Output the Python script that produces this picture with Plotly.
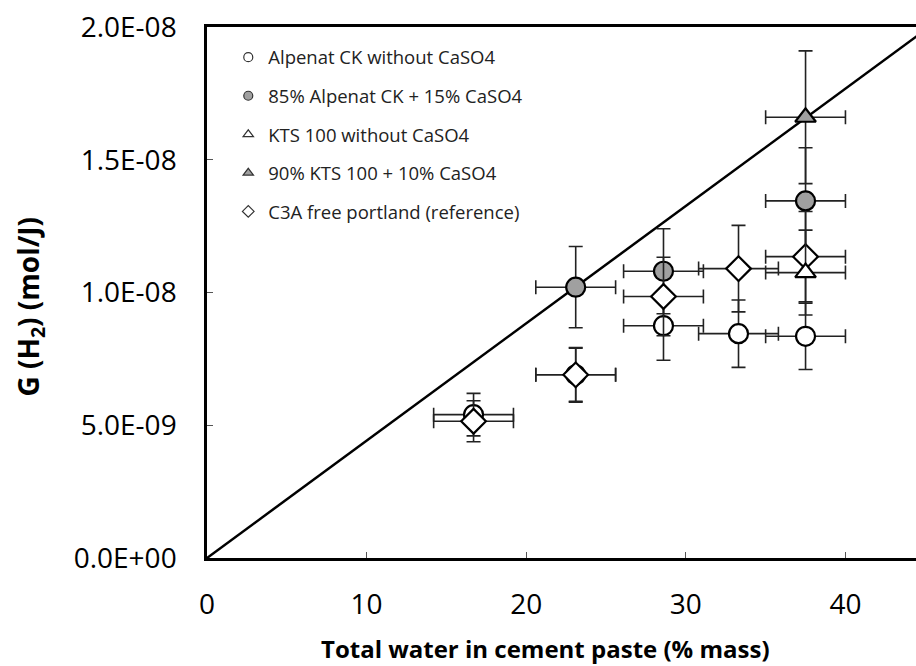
import plotly.graph_objects as go

# ---- data ----
alpenat_x = [16.7, 23.1, 28.6, 33.3, 37.5]
alpenat_y = [5.4e-9, 6.9e-9, 8.75e-9, 8.45e-9, 8.35e-9]
alpenat_xerr = [2.5, 2.5, 2.5, 2.5, 2.5]
alpenat_yerr = [0.8e-9, 1.0e-9, 1.3e-9, 1.27e-9, 1.25e-9]

alpenat_caso4_x = [23.1, 28.6, 37.5]
alpenat_caso4_y = [1.02e-8, 1.08e-8, 1.345e-8]
alpenat_caso4_xerr = [2.5, 2.5, 2.5]
alpenat_caso4_yerr = [1.53e-9, 1.6e-9, 2.0e-9]

kts_x = [37.5]
kts_y = [1.075e-8]
kts_xerr = [2.5]
kts_yerr = [1.6e-9]

kts_caso4_x = [37.5]
kts_caso4_y = [1.66e-8]
kts_caso4_xerr = [2.5]
kts_caso4_yerr = [2.5e-9]

c3a_x = [16.7, 23.1, 28.6, 33.3, 37.5]
c3a_y = [5.15e-9, 6.9e-9, 9.85e-9, 1.09e-8, 1.135e-8]
c3a_xerr = [2.5, 2.5, 2.5, 2.5, 2.5]
c3a_yerr = [0.77e-9, 1.03e-9, 1.48e-9, 1.63e-9, 1.7e-9]

trend_slope = 4.42e-10
trend_x = [0, 50]

y_tickvals = [0, 5e-9, 1e-8, 1.5e-8, 2e-8]
y_ticktext = ["0.0E+00", "5.0E-09", "1.0E-08", "1.5E-08", "2.0E-08"]
x_tickvals = [0, 10, 20, 30, 40]

series = [
    ("Alpenat CK without CaSO4", alpenat_x, alpenat_y, alpenat_xerr, alpenat_yerr, "circle", "white"),
    ("85% Alpenat CK + 15% CaSO4", alpenat_caso4_x, alpenat_caso4_y, alpenat_caso4_xerr, alpenat_caso4_yerr, "circle", "#a0a0a0"),
    ("C3A free portland (reference)", c3a_x, c3a_y, c3a_xerr, c3a_yerr, "diamond", "white"),
    ("KTS 100 without CaSO4", kts_x, kts_y, kts_xerr, kts_yerr, "triangle-up", "white"),
    ("90% KTS 100 + 10% CaSO4", kts_caso4_x, kts_caso4_y, kts_caso4_xerr, kts_caso4_yerr, "triangle-up", "#a0a0a0"),
]
legend_order = [0, 1, 3, 4, 2]

FONT = "Open Sans"
fig = go.Figure()

fig.add_trace(go.Scatter(
    x=trend_x, y=[trend_slope * v for v in trend_x], mode="lines",
    line=dict(color="black", width=2.5), showlegend=False, hoverinfo="skip"))

for name, xs, ys, xe, ye, sym, fill in series:
    size = 19 if sym != "triangle-up" else 18
    fig.add_trace(go.Scatter(
        x=xs, y=ys, mode="markers", name=name, showlegend=False,
        marker=dict(symbol=sym, size=size, color=fill,
                    line=dict(color="black", width=2.2)),
        error_x=dict(type="data", array=xe, visible=True, color="#222222",
                     thickness=1.6, width=7),
        error_y=dict(type="data", array=ye, visible=True, color="#222222",
                     thickness=1.6, width=7),
    ))

# legend-only entries with small symbols
for i, idx in enumerate(legend_order):
    name, xs, ys, xe, ye, sym, fill = series[idx]
    fig.add_trace(go.Scatter(
        x=[None], y=[None], mode="markers", name=name, legendgroup=str(i),
        marker=dict(symbol=sym, size=9, color=fill,
                    line=dict(color="#333333", width=1.2)),
    ))

fig.update_layout(
    width=916, height=666,
    margin=dict(l=207, r=0, t=27, b=108),
    paper_bgcolor="white", plot_bgcolor="white",
    font=dict(family=FONT, color="black"),
    showlegend=True,
    legend=dict(x=0.03, y=0.978, xanchor="left", yanchor="top",
                bgcolor="rgba(0,0,0,0)", font=dict(size=18.5, family=FONT, color="#222222"),
                tracegroupgap=11.5, itemwidth=30, traceorder="grouped"),
    xaxis=dict(range=[0, 44.42], tickvals=x_tickvals, ticks="inside", ticklen=6,
               tickwidth=1, tickcolor="#555555", showgrid=False, zeroline=False,
               showline=True, linecolor="black", linewidth=2.5, mirror=True,
               tickfont=dict(size=28, family=FONT, color="black"),
               ticklabelstandoff=20),
    yaxis=dict(range=[0, 2e-8], tickvals=y_tickvals, ticktext=y_ticktext,
               ticks="inside", ticklen=6, tickwidth=1, tickcolor="#555555",
               showgrid=False, zeroline=False, showline=True, linecolor="black",
               linewidth=2.5, tickfont=dict(size=28, family=FONT, color="black"),
               ticklabelstandoff=22),
    annotations=[
        dict(text="<b>Total water in cement paste (% mass)</b>", xref="paper", yref="paper",
             x=0.478, y=-0.17, xanchor="center", yanchor="middle", showarrow=False,
             font=dict(size=24, family=FONT, color="black")),
        dict(text="<b>G (H<sub>2</sub>) (mol/J)</b>", xref="paper", yref="paper",
             x=-0.25, y=0.473, xanchor="center", yanchor="middle", showarrow=False,
             textangle=-90, font=dict(size=28, family=FONT, color="black")),
    ],
)

fig.write_html("out.html", config={"displayModeBar": False},
               post_script="document.body.style.margin='0';")
